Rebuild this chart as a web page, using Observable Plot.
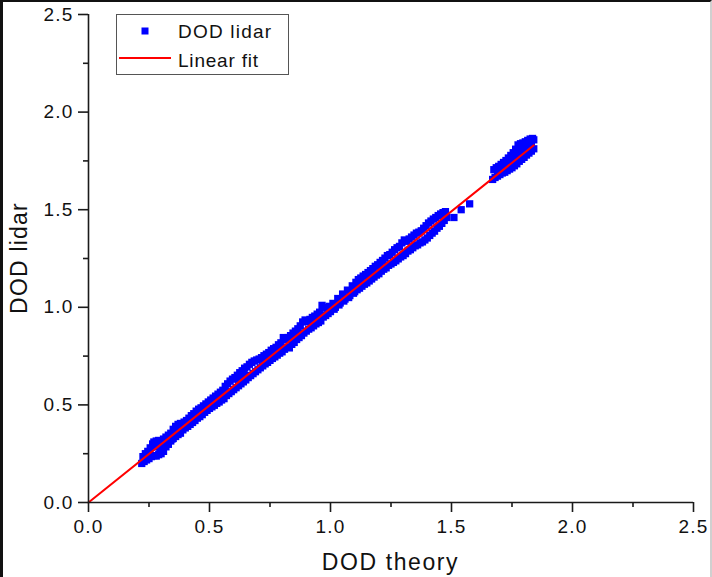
<!DOCTYPE html>
<html>
<head>
<meta charset="utf-8">
<script src="https://cdn.jsdelivr.net/npm/d3@7"></script>
<script src="https://cdn.jsdelivr.net/npm/@observablehq/plot@0.6"></script>
<style>
  html, body { margin: 0; padding: 0; background: white; }
  #wrap { position: relative; width: 712px; height: 577px; overflow: hidden; }
  #frame { position: absolute; left: 0; top: 0; width: 712px; height: 577px; box-sizing: border-box;
           border-top: 2px solid #111; border-left: 3px solid #111; border-right: 2px solid #d0d0d0;
           pointer-events: none; }
  svg text { letter-spacing: 1.2px; }
  svg g[aria-label$="tick label"] { font-size: 19px !important; fill: #111; }
</style>
</head>
<body>
<div id="wrap"><div id="frame"></div></div>
<script>
const theory = [
  0.22,0.225,0.23,0.235,0.24,0.245,0.25,0.255,0.26,0.265,
  0.27,0.27,0.275,0.28,0.28,0.285,0.29,0.29,0.295,0.30,
  0.30,0.305,0.31,0.31,0.315,0.32,0.32,0.325,0.33,0.33,
  0.335,0.34,0.345,0.35,0.355,0.36,0.365,0.37,0.375,0.38,
  0.34,0.35,0.36,0.37,0.38,0.39,0.395,0.40,0.405,0.41,
  0.415,0.42,0.425,0.43,0.435,0.44,0.445,0.45,0.455,0.46,
  0.465,0.47,0.475,0.48,0.485,0.49,0.495,0.50,0.505,0.51,
  0.515,0.52,0.525,0.53,0.535,0.54,0.545,0.55,0.555,0.56,
  0.565,0.57,0.575,0.58,0.585,0.59,0.595,0.60,0.605,0.61,
  0.615,0.62,0.625,0.63,0.635,0.64,0.645,0.65,0.655,0.66,
  0.665,0.67,0.675,0.68,0.685,0.69,0.695,0.70,0.62,0.64,
  0.705,0.71,0.715,0.72,0.725,0.73,0.735,0.74,0.745,0.75,
  0.755,0.76,0.765,0.77,0.775,0.78,0.785,0.79,0.795,0.80,
  0.805,0.81,0.815,0.82,0.825,0.83,0.835,0.84,0.845,0.85,
  0.855,0.86,0.865,0.87,0.875,0.88,0.885,0.89,0.895,0.90,
  0.905,0.91,0.915,0.92,0.925,0.93,0.935,0.94,0.945,0.95,
  0.955,0.96,0.965,0.97,0.975,0.98,0.985,0.99,0.995,1.00,
  1.01,1.02,1.03,1.04,1.05,1.06,1.07,1.08,1.09,1.10,
  1.015,1.035,1.055,1.075,1.095,1.105,1.11,1.115,1.12,1.125,
  1.13,1.135,1.14,1.145,1.15,1.155,1.16,1.165,1.17,1.175,
  1.18,1.185,1.19,1.195,1.20,1.205,1.21,1.215,1.22,1.225,
  1.23,1.235,1.24,1.245,1.25,1.255,1.26,1.265,1.27,1.275,
  1.28,1.285,1.29,1.295,1.30,1.305,1.31,1.315,1.32,1.325,
  1.33,1.335,1.34,1.345,1.35,1.355,1.36,1.365,1.37,1.375,
  1.38,1.385,1.39,1.395,1.40,1.405,1.41,1.415,1.42,1.425,
  1.43,1.435,1.44,1.445,1.45,1.455,1.46,1.465,1.47,1.475,
  1.48,1.51,1.54,1.575,
  1.67,1.675,1.68,1.685,1.69,1.695,1.70,1.705,1.71,1.715,
  1.72,1.725,1.73,1.735,1.74,1.745,1.75,1.755,1.76,1.765,
  1.77,1.775,1.78,1.785,1.79,1.795,1.80,1.805,1.81,1.815,
  1.82,1.825,1.83,1.835,1.84,1.84,1.83,1.82,1.80,1.79,
  1.70,1.72,1.74,1.76,1.78,1.80,1.82,1.75,1.79,1.81
];
const lidar = [
  0.200,0.235,0.210,0.250,0.218,0.262,0.225,0.280,0.235,0.300,
  0.310,0.240,0.285,0.315,0.238,0.300,0.318,0.245,0.270,0.310,
  0.250,0.280,0.325,0.262,0.300,0.335,0.285,0.310,0.345,0.298,
  0.340,0.355,0.325,0.375,0.340,0.390,0.352,0.400,0.360,0.405,
  0.315,0.328,0.338,0.348,0.355,0.372,0.412,0.382,0.420,0.390,
  0.432,0.400,0.445,0.410,0.455,0.420,0.468,0.432,0.478,0.440,
  0.485,0.450,0.495,0.462,0.505,0.472,0.515,0.482,0.525,0.490,
  0.535,0.498,0.545,0.508,0.555,0.515,0.565,0.525,0.575,0.532,
  0.595,0.548,0.608,0.558,0.622,0.568,0.632,0.578,0.640,0.588,
  0.652,0.598,0.665,0.608,0.675,0.618,0.688,0.628,0.695,0.640,
  0.708,0.650,0.718,0.660,0.725,0.670,0.730,0.680,0.635,0.655,
  0.735,0.690,0.742,0.700,0.752,0.710,0.760,0.718,0.768,0.728,
  0.780,0.738,0.788,0.746,0.795,0.755,0.808,0.765,0.818,0.772,
  0.845,0.785,0.835,0.795,0.845,0.792,0.855,0.810,0.868,0.820,
  0.878,0.835,0.890,0.845,0.905,0.855,0.925,0.868,0.935,0.878,
  0.928,0.888,0.938,0.895,0.948,0.905,0.955,0.915,0.965,0.922,
  0.975,0.930,1.010,0.950,1.000,0.958,0.995,0.968,1.005,0.978,
  1.020,1.000,1.045,1.022,1.068,1.042,1.088,1.060,1.110,1.080,
  0.990,1.012,1.032,1.050,1.072,1.128,1.090,1.142,1.098,1.150,
  1.108,1.160,1.118,1.168,1.125,1.178,1.135,1.188,1.145,1.198,
  1.155,1.210,1.165,1.218,1.172,1.230,1.185,1.240,1.195,1.252,
  1.202,1.265,1.215,1.270,1.222,1.282,1.230,1.295,1.238,1.305,
  1.248,1.312,1.258,1.330,1.265,1.345,1.275,1.338,1.288,1.350,
  1.295,1.360,1.305,1.370,1.315,1.380,1.320,1.385,1.330,1.392,
  1.335,1.405,1.345,1.418,1.355,1.432,1.368,1.442,1.380,1.452,
  1.390,1.460,1.405,1.470,1.415,1.478,1.430,1.485,1.445,1.490,
  1.460,1.460,1.500,1.530,
  1.655,1.705,1.665,1.715,1.672,1.722,1.680,1.732,1.688,1.742,
  1.692,1.752,1.700,1.765,1.708,1.778,1.715,1.792,1.725,1.810,
  1.735,1.832,1.748,1.838,1.758,1.842,1.768,1.848,1.780,1.855,
  1.790,1.862,1.800,1.865,1.812,1.858,1.845,1.825,1.805,1.795,
  1.705,1.725,1.745,1.765,1.790,1.810,1.830,1.750,1.800,1.822
];
const fitTheory = [0, 1.84];
const fitLidar = [0, 1.83];
const majorTicks = [0, 0.5, 1.0, 1.5, 2.0, 2.5];
const minorTicks = [0.25, 0.75, 1.25, 1.75, 2.25];
const xTitle = "DOD theory";
const yTitle = "DOD lidar";
const legendLabels = ["DOD lidar", "Linear fit"];

const points = theory.map((x, i) => ({x, y: lidar[i]}));
const fit = fitTheory.map((x, i) => ({x, y: fitLidar[i]}));
const fmt = d3.format(".1f");
const axisColor = "#1a1a1a";

const chart = Plot.plot({
  width: 712, height: 577,
  marginLeft: 88, marginRight: 19, marginTop: 14, marginBottom: 75,
  x: {domain: [0, 2.5]},
  y: {domain: [0, 2.5]},
  style: {fontFamily: "'Liberation Sans', Arial, sans-serif", fontSize: "19px", color: axisColor, background: "transparent"},
  marks: [
    Plot.dot(points, {x: "x", y: "y", symbol: "square", r: 4.1, fill: "#0000ff"}),
    Plot.line(fit, {x: "x", y: "y", stroke: "#ff0000", strokeWidth: 2}),
    Plot.ruleX([0], {stroke: axisColor, strokeWidth: 1.6}),
    Plot.ruleY([0], {stroke: axisColor, strokeWidth: 1.6}),
    Plot.axisX({ticks: majorTicks, tickSize: 10, tickPadding: 7, tickFormat: fmt, label: null, strokeWidth: 1.6, fontSize: 19}),
    Plot.axisX({ticks: minorTicks, tickSize: 5, tickFormat: () => "", label: null, strokeWidth: 1.6}),
    Plot.axisY({ticks: majorTicks, tickSize: 10, tickPadding: 5, tickFormat: fmt, label: null, strokeWidth: 1.6, fontSize: 19}),
    Plot.axisY({ticks: minorTicks, tickSize: 5, tickFormat: () => "", label: null, strokeWidth: 1.6})
  ]
});

const svg = d3.select(chart);
svg.append("text")
  .attr("x", 390.5).attr("y", 570)
  .attr("text-anchor", "middle")
  .attr("font-size", 23).attr("fill", "#111")
  .style("letter-spacing", "1.6px")
  .text(xTitle);
svg.append("text")
  .attr("transform", "translate(27,258) rotate(-90)")
  .attr("text-anchor", "middle")
  .attr("font-size", 23).attr("fill", "#111")
  .style("letter-spacing", "1.2px")
  .text(yTitle);

const lg = svg.append("g").attr("text-anchor", "start");
lg.append("rect").attr("x", 116.5).attr("y", 14.5).attr("width", 172).attr("height", 60)
  .attr("fill", "white").attr("stroke", "#555").attr("stroke-width", 1);
lg.append("rect").attr("x", 141.5).attr("y", 27.5).attr("width", 7).attr("height", 7).attr("fill", "#0000ff");
lg.append("line").attr("x1", 119).attr("x2", 171).attr("y1", 58).attr("y2", 58)
  .attr("stroke", "#ff0000").attr("stroke-width", 2);
lg.append("text").attr("x", 178).attr("y", 37.5).attr("text-anchor", "start").attr("font-size", 19).attr("fill", "#111").style("letter-spacing", "1.2px").text(legendLabels[0]);
lg.append("text").attr("x", 178).attr("y", 66.5).attr("text-anchor", "start").attr("font-size", 19).attr("fill", "#111").style("letter-spacing", "0.8px").text(legendLabels[1]);

document.getElementById("wrap").prepend(chart);
</script>
</body>
</html>
